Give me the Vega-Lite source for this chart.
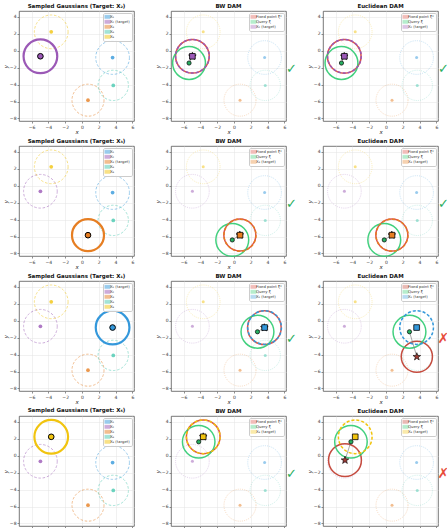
{
"$schema": "https://vega.github.io/schema/vega-lite/v6.json",
"padding": {"left": 2, "top": 3, "right": 0, "bottom": 0},
"background": "white",
"columns": 3,
"spacing": {"row": 25, "column": 37},
"bounds": "flush",
"resolve": {"scale": {"color": "independent", "size": "independent"}},
"config": {
 "font": "DejaVu Sans",
 "view": {"stroke": "#555", "strokeWidth": 0.8},
 "axis": {"labelFontSize": 4.5, "labelColor": "#333", "titleFontSize": 5.5, "titleColor": "#222", "titleFontWeight": "normal", "titleFontStyle": "italic", "tickSize": 2, "tickWidth": 0.6, "tickColor": "#444", "labelPadding": 1, "titlePadding": 1, "domain": false, "gridColor": "#e3e3e3", "gridWidth": 0.5, "labelFont": "DejaVu Sans", "titleFont": "DejaVu Sans"},
 "title": {"fontSize": 5.5, "font": "DejaVu Sans", "fontWeight": "bold", "offset": 2, "color": "#111"},
 "legend": {"labelFontSize": 3.8, "labelFont": "DejaVu Sans", "labelColor": "#333", "padding": 1.5, "rowPadding": 0, "clipHeight": 4.4, "fillColor": "rgba(255,255,255,0.9)", "strokeColor": "#cccccc", "cornerRadius": 1.5, "labelOffset": 1.5, "symbolStrokeWidth": 1, "labelLimit": 60}
},
"datasets": {
 "gauss": [
  {"name": "X₁", "x": 3.65, "y": -0.8, "r": 2.0},
  {"name": "X₂", "x": -4.95, "y": -0.65, "r": 2.0},
  {"name": "X₃", "x": 0.72, "y": -5.84, "r": 1.9},
  {"name": "X₄", "x": 3.73, "y": -4.09, "r": 1.8},
  {"name": "X₅", "x": -3.66, "y": 2.24, "r": 2.0}
 ],
 "ok": [{"res": "✓", "x": 6.85, "y": -2.1}],
 "fail": [{"res": "✗", "x": 6.85, "y": -2.1}],
 "r1bw": [{"item": "Fixed point ξ*", "x": -4.95, "y": -0.65, "r": 2.0}, {"item": "Query ξ", "x": -5.35, "y": -1.45, "r": 1.95}, {"item": "X₂ (target)", "x": -4.95, "y": -0.65, "r": 2.0}],
 "r1eu": [{"item": "Fixed point ξ*", "x": -4.97, "y": -0.66, "r": 2.0}, {"item": "Query ξ", "x": -5.3, "y": -1.45, "r": 1.95}, {"item": "X₂ (target)", "x": -4.95, "y": -0.65, "r": 2.0}],
 "r2bw": [{"item": "Fixed point ξ*", "x": 0.7, "y": -5.82, "r": 1.9}, {"item": "Query ξ", "x": -0.2, "y": -6.4, "r": 1.95}, {"item": "X₃ (target)", "x": 0.72, "y": -5.84, "r": 1.9}],
 "r2eu": [{"item": "Fixed point ξ*", "x": 0.7, "y": -5.83, "r": 1.9}, {"item": "Query ξ", "x": -0.2, "y": -6.4, "r": 1.95}, {"item": "X₃ (target)", "x": 0.72, "y": -5.84, "r": 1.9}],
 "r3bw": [{"item": "Fixed point ξ*", "x": 3.62, "y": -0.82, "r": 2.0}, {"item": "Query ξ", "x": 2.8, "y": -1.3, "r": 1.95}, {"item": "X₁ (target)", "x": 3.65, "y": -0.8, "r": 2.0}],
 "r3eu": [{"item": "Fixed point ξ*", "x": 3.68, "y": -4.25, "r": 1.85}, {"item": "Query ξ", "x": 2.8, "y": -1.3, "r": 1.95}, {"item": "X₁ (target)", "x": 3.65, "y": -0.8, "r": 2.0}],
 "r4bw": [{"item": "Fixed point ξ*", "x": -3.66, "y": 2.24, "r": 2.0}, {"item": "Query ξ", "x": -4.2, "y": 1.65, "r": 1.93}, {"item": "X₅ (target)", "x": -3.66, "y": 2.24, "r": 2.0}],
 "r4eu": [{"item": "Fixed point ξ*", "x": -4.88, "y": -0.52, "r": 1.95}, {"item": "Query ξ", "x": -4.17, "y": 1.65, "r": 1.93}, {"item": "X₅ (target)", "x": -3.66, "y": 2.24, "r": 2.0}]
},
"concat": [
 {
  "title": "Sampled Gaussians (Target: X₂)",
  "width": 115, "height": 110,
  "data": {"name": "gauss"},
  "encoding": {"x": {"field": "x", "type": "quantitative", "title": "x", "scale": {"domain": [-7.5, 6.2], "nice": false, "zero": false}, "axis": {"values": [-6, -4, -2, 0, 2, 4, 6], "labelExpr": "replace(datum.label, '-', '−')"}}, "y": {"field": "y", "type": "quantitative", "title": "y", "scale": {"domain": [-8.3, 4.7], "nice": false, "zero": false}, "axis": {"values": [-8, -6, -4, -2, 0, 2, 4], "labelExpr": "replace(datum.label, '-', '−')"}}},
  "layer": [
   {"transform": [{"filter": "datum.name != 'X₂'"}], "mark": {"type": "point", "filled": false, "strokeDash": [2.5, 1.8], "strokeWidth": 1, "opacity": 0.5}, "encoding": {"size": {"field": "r", "type": "quantitative", "scale": {"type": "pow", "exponent": 2, "domain": [0, 2], "range": [0, 1135]}, "legend": null}, "color": {"field": "name", "type": "nominal", "scale": {"domain": ["X₁", "X₂", "X₃", "X₄", "X₅"], "range": ["#3498DB", "#9B59B6", "#E67E22", "#48C9B0", "#F1C40F"]}, "legend": {"title": null, "orient": "top-right", "offset": 2, "symbolType": "M-2.5,-1H2.5V1H-2.5Z", "symbolSize": 9, "labelExpr": "datum.label == 'X₂' ? 'X₂ (target)' : datum.label", "encode": {"symbols": {"update": {"strokeDash": {"signal": "datum.value == 'X₂' ? [1,0] : [1.5,1]"}, "strokeWidth": {"signal": "datum.value == 'X₂' ? 1.3 : 0.8"}, "opacity": {"signal": "datum.value == 'X₂' ? 1 : 0.55"}, "fill": {"signal": "['#3498DB','#9B59B6','#E67E22','#48C9B0','#F1C40F'][indexof(['X₁','X₂','X₃','X₄','X₅'], datum.value)]"}, "fillOpacity": {"value": 0.25}}}}}}}},
   {"transform": [{"filter": "datum.name == 'X₂'"}], "mark": {"type": "point", "filled": false, "strokeWidth": 2.2, "opacity": 1}, "encoding": {"size": {"field": "r", "type": "quantitative", "scale": {"type": "pow", "exponent": 2, "domain": [0, 2], "range": [0, 1135]}, "legend": null}, "color": {"field": "name", "type": "nominal", "scale": {"domain": ["X₁", "X₂", "X₃", "X₄", "X₅"], "range": ["#3498DB", "#9B59B6", "#E67E22", "#48C9B0", "#F1C40F"]}}}},
   {"transform": [{"filter": "datum.name != 'X₂'"}], "mark": {"type": "circle", "size": 14, "opacity": 0.8}, "encoding": {"color": {"field": "name", "type": "nominal", "scale": {"domain": ["X₁", "X₂", "X₃", "X₄", "X₅"], "range": ["#3498DB", "#9B59B6", "#E67E22", "#48C9B0", "#F1C40F"]}}}},
   {"transform": [{"filter": "datum.name == 'X₂'"}], "mark": {"type": "circle", "size": 32, "opacity": 1, "stroke": "black", "strokeWidth": 1}, "encoding": {"color": {"field": "name", "type": "nominal", "scale": {"domain": ["X₁", "X₂", "X₃", "X₄", "X₅"], "range": ["#3498DB", "#9B59B6", "#E67E22", "#48C9B0", "#F1C40F"]}}}}
  ]
 },
 {
  "title": "BW DAM",
  "width": 115, "height": 110,
  "encoding": {"x": {"field": "x", "type": "quantitative", "title": "x", "scale": {"domain": [-7.5, 6.2], "nice": false, "zero": false}, "axis": {"values": [-6, -4, -2, 0, 2, 4, 6], "labelExpr": "replace(datum.label, '-', '−')"}}, "y": {"field": "y", "type": "quantitative", "title": "y", "scale": {"domain": [-8.3, 4.7], "nice": false, "zero": false}, "axis": {"values": [-8, -6, -4, -2, 0, 2, 4], "labelExpr": "replace(datum.label, '-', '−')"}}},
  "layer": [
   {"data": {"name": "gauss"}, "mark": {"type": "point", "filled": false, "strokeDash": [1, 1.2], "strokeWidth": 0.8, "opacity": 0.35}, "encoding": {"size": {"field": "r", "type": "quantitative", "scale": {"type": "pow", "exponent": 2, "domain": [0, 2], "range": [0, 1135]}, "legend": null}, "color": {"field": "name", "type": "nominal", "scale": {"domain": ["Fixed point ξ*", "Query ξ", "X₂ (target)", "X₁", "X₂", "X₃", "X₄", "X₅"], "range": ["#D9443A", "#2ECC71", "#9B59B6", "#3498DB", "#9B59B6", "#E67E22", "#48C9B0", "#F1C40F"]}}}},
   {"data": {"name": "gauss"}, "mark": {"type": "circle", "size": 9, "opacity": 0.5}, "encoding": {"color": {"field": "name", "type": "nominal", "scale": {"domain": ["Fixed point ξ*", "Query ξ", "X₂ (target)", "X₁", "X₂", "X₃", "X₄", "X₅"], "range": ["#D9443A", "#2ECC71", "#9B59B6", "#3498DB", "#9B59B6", "#E67E22", "#48C9B0", "#F1C40F"]}}}},
   {"data": {"name": "r1bw"}, "transform": [{"filter": "datum.item != 'X₂ (target)'"}], "mark": {"type": "point", "filled": false, "strokeWidth": 1.5, "opacity": 0.9}, "encoding": {"size": {"field": "r", "type": "quantitative", "scale": {"type": "pow", "exponent": 2, "domain": [0, 2], "range": [0, 1135]}, "legend": null}, "color": {"field": "item", "type": "nominal", "scale": {"domain": ["Fixed point ξ*", "Query ξ", "X₂ (target)", "X₁", "X₂", "X₃", "X₄", "X₅"], "range": ["#D9443A", "#2ECC71", "#9B59B6", "#3498DB", "#9B59B6", "#E67E22", "#48C9B0", "#F1C40F"]}, "legend": {"title": null, "orient": "top-right", "offset": 2, "values": ["Fixed point ξ*", "Query ξ", "X₂ (target)"], "symbolType": "M-2.5,-1H2.5V1H-2.5Z", "symbolSize": 9, "encode": {"symbols": {"update": {"strokeDash": {"signal": "datum.value == 'X₂ (target)' ? [2,1] : [1,0]"}, "strokeWidth": {"value": 1.2}, "opacity": {"value": 1}, "fill": {"signal": "datum.value == 'Fixed point ξ*' ? '#D9443A' : datum.value == 'Query ξ' ? '#2ECC71' : '#9B59B6'"}, "fillOpacity": {"value": 0.3}}}}}}}},
   {"data": {"name": "r1bw"}, "transform": [{"filter": "datum.item == 'X₂ (target)'"}], "mark": {"type": "point", "filled": false, "strokeWidth": 1.5, "strokeDash": [3, 2], "opacity": 1}, "encoding": {"size": {"field": "r", "type": "quantitative", "scale": {"type": "pow", "exponent": 2, "domain": [0, 2], "range": [0, 1135]}, "legend": null}, "color": {"field": "item", "type": "nominal", "scale": {"domain": ["Fixed point ξ*", "Query ξ", "X₂ (target)", "X₁", "X₂", "X₃", "X₄", "X₅"], "range": ["#D9443A", "#2ECC71", "#9B59B6", "#3498DB", "#9B59B6", "#E67E22", "#48C9B0", "#F1C40F"]}}}},
   {"data": {"name": "r1bw"}, "transform": [{"filter": "datum.item != 'X₂ (target)'"}], "mark": {"type": "line", "color": "#777", "strokeWidth": 0.8, "opacity": 0.8}, "encoding": {}},
   {"data": {"name": "r1bw"}, "transform": [{"filter": "datum.item == 'Fixed point ξ*'"}], "mark": {"type": "point", "shape": "M0,-1L0.235,-0.324L0.951,-0.309L0.38,0.124L0.588,0.809L0,0.4L-0.588,0.809L-0.38,0.124L-0.951,-0.309L-0.235,-0.324Z", "filled": true, "fill": "#9E3B33", "stroke": "black", "strokeWidth": 0.6, "size": 65, "opacity": 1}, "encoding": {}},
   {"data": {"name": "r1bw"}, "transform": [{"filter": "datum.item == 'X₂ (target)'"}], "mark": {"type": "square", "size": 32, "color": "#9B59B6", "stroke": "black", "strokeWidth": 0.8, "opacity": 1}, "encoding": {}},
   {"data": {"name": "r1bw"}, "transform": [{"filter": "datum.item == 'Query ξ'"}], "mark": {"type": "circle", "size": 18, "color": "#27AE60", "stroke": "black", "strokeWidth": 0.7, "opacity": 1}, "encoding": {}},
   {"data": {"name": "ok"}, "mark": {"type": "text", "fontSize": 13, "color": "#27AE60", "align": "center", "baseline": "middle"}, "encoding": {"text": {"field": "res", "type": "nominal"}}}
  ]
 },
 {
  "title": "Euclidean DAM",
  "width": 115, "height": 110,
  "encoding": {"x": {"field": "x", "type": "quantitative", "title": "x", "scale": {"domain": [-7.5, 6.2], "nice": false, "zero": false}, "axis": {"values": [-6, -4, -2, 0, 2, 4, 6], "labelExpr": "replace(datum.label, '-', '−')"}}, "y": {"field": "y", "type": "quantitative", "title": "y", "scale": {"domain": [-8.3, 4.7], "nice": false, "zero": false}, "axis": {"values": [-8, -6, -4, -2, 0, 2, 4], "labelExpr": "replace(datum.label, '-', '−')"}}},
  "layer": [
   {"data": {"name": "gauss"}, "mark": {"type": "point", "filled": false, "strokeDash": [1, 1.2], "strokeWidth": 0.8, "opacity": 0.35}, "encoding": {"size": {"field": "r", "type": "quantitative", "scale": {"type": "pow", "exponent": 2, "domain": [0, 2], "range": [0, 1135]}, "legend": null}, "color": {"field": "name", "type": "nominal", "scale": {"domain": ["Fixed point ξ*", "Query ξ", "X₂ (target)", "X₁", "X₂", "X₃", "X₄", "X₅"], "range": ["#D9443A", "#2ECC71", "#9B59B6", "#3498DB", "#9B59B6", "#E67E22", "#48C9B0", "#F1C40F"]}}}},
   {"data": {"name": "gauss"}, "mark": {"type": "circle", "size": 9, "opacity": 0.5}, "encoding": {"color": {"field": "name", "type": "nominal", "scale": {"domain": ["Fixed point ξ*", "Query ξ", "X₂ (target)", "X₁", "X₂", "X₃", "X₄", "X₅"], "range": ["#D9443A", "#2ECC71", "#9B59B6", "#3498DB", "#9B59B6", "#E67E22", "#48C9B0", "#F1C40F"]}}}},
   {"data": {"name": "r1eu"}, "transform": [{"filter": "datum.item != 'X₂ (target)'"}], "mark": {"type": "point", "filled": false, "strokeWidth": 1.5, "opacity": 0.9}, "encoding": {"size": {"field": "r", "type": "quantitative", "scale": {"type": "pow", "exponent": 2, "domain": [0, 2], "range": [0, 1135]}, "legend": null}, "color": {"field": "item", "type": "nominal", "scale": {"domain": ["Fixed point ξ*", "Query ξ", "X₂ (target)", "X₁", "X₂", "X₃", "X₄", "X₅"], "range": ["#D9443A", "#2ECC71", "#9B59B6", "#3498DB", "#9B59B6", "#E67E22", "#48C9B0", "#F1C40F"]}, "legend": {"title": null, "orient": "top-right", "offset": 2, "values": ["Fixed point ξ*", "Query ξ", "X₂ (target)"], "symbolType": "M-2.5,-1H2.5V1H-2.5Z", "symbolSize": 9, "encode": {"symbols": {"update": {"strokeDash": {"signal": "datum.value == 'X₂ (target)' ? [2,1] : [1,0]"}, "strokeWidth": {"value": 1.2}, "opacity": {"value": 1}, "fill": {"signal": "datum.value == 'Fixed point ξ*' ? '#D9443A' : datum.value == 'Query ξ' ? '#2ECC71' : '#9B59B6'"}, "fillOpacity": {"value": 0.3}}}}}}}},
   {"data": {"name": "r1eu"}, "transform": [{"filter": "datum.item == 'X₂ (target)'"}], "mark": {"type": "point", "filled": false, "strokeWidth": 1.5, "strokeDash": [3, 2], "opacity": 1}, "encoding": {"size": {"field": "r", "type": "quantitative", "scale": {"type": "pow", "exponent": 2, "domain": [0, 2], "range": [0, 1135]}, "legend": null}, "color": {"field": "item", "type": "nominal", "scale": {"domain": ["Fixed point ξ*", "Query ξ", "X₂ (target)", "X₁", "X₂", "X₃", "X₄", "X₅"], "range": ["#D9443A", "#2ECC71", "#9B59B6", "#3498DB", "#9B59B6", "#E67E22", "#48C9B0", "#F1C40F"]}}}},
   {"data": {"name": "r1eu"}, "transform": [{"filter": "datum.item != 'X₂ (target)'"}], "mark": {"type": "line", "color": "#777", "strokeWidth": 0.8, "opacity": 0.8}, "encoding": {}},
   {"data": {"name": "r1eu"}, "transform": [{"filter": "datum.item == 'Fixed point ξ*'"}], "mark": {"type": "point", "shape": "M0,-1L0.235,-0.324L0.951,-0.309L0.38,0.124L0.588,0.809L0,0.4L-0.588,0.809L-0.38,0.124L-0.951,-0.309L-0.235,-0.324Z", "filled": true, "fill": "#9E3B33", "stroke": "black", "strokeWidth": 0.6, "size": 65, "opacity": 1}, "encoding": {}},
   {"data": {"name": "r1eu"}, "transform": [{"filter": "datum.item == 'X₂ (target)'"}], "mark": {"type": "square", "size": 32, "color": "#9B59B6", "stroke": "black", "strokeWidth": 0.8, "opacity": 1}, "encoding": {}},
   {"data": {"name": "r1eu"}, "transform": [{"filter": "datum.item == 'Query ξ'"}], "mark": {"type": "circle", "size": 18, "color": "#27AE60", "stroke": "black", "strokeWidth": 0.7, "opacity": 1}, "encoding": {}},
   {"data": {"name": "ok"}, "mark": {"type": "text", "fontSize": 13, "color": "#27AE60", "align": "center", "baseline": "middle"}, "encoding": {"text": {"field": "res", "type": "nominal"}}}
  ]
 },
 {
  "title": "Sampled Gaussians (Target: X₃)",
  "width": 115, "height": 110,
  "data": {"name": "gauss"},
  "encoding": {"x": {"field": "x", "type": "quantitative", "title": "x", "scale": {"domain": [-7.5, 6.2], "nice": false, "zero": false}, "axis": {"values": [-6, -4, -2, 0, 2, 4, 6], "labelExpr": "replace(datum.label, '-', '−')"}}, "y": {"field": "y", "type": "quantitative", "title": "y", "scale": {"domain": [-8.3, 4.7], "nice": false, "zero": false}, "axis": {"values": [-8, -6, -4, -2, 0, 2, 4], "labelExpr": "replace(datum.label, '-', '−')"}}},
  "layer": [
   {"transform": [{"filter": "datum.name != 'X₃'"}], "mark": {"type": "point", "filled": false, "strokeDash": [2.5, 1.8], "strokeWidth": 1, "opacity": 0.5}, "encoding": {"size": {"field": "r", "type": "quantitative", "scale": {"type": "pow", "exponent": 2, "domain": [0, 2], "range": [0, 1135]}, "legend": null}, "color": {"field": "name", "type": "nominal", "scale": {"domain": ["X₁", "X₂", "X₃", "X₄", "X₅"], "range": ["#3498DB", "#9B59B6", "#E67E22", "#48C9B0", "#F1C40F"]}, "legend": {"title": null, "orient": "top-right", "offset": 2, "symbolType": "M-2.5,-1H2.5V1H-2.5Z", "symbolSize": 9, "labelExpr": "datum.label == 'X₃' ? 'X₃ (target)' : datum.label", "encode": {"symbols": {"update": {"strokeDash": {"signal": "datum.value == 'X₃' ? [1,0] : [1.5,1]"}, "strokeWidth": {"signal": "datum.value == 'X₃' ? 1.3 : 0.8"}, "opacity": {"signal": "datum.value == 'X₃' ? 1 : 0.55"}, "fill": {"signal": "['#3498DB','#9B59B6','#E67E22','#48C9B0','#F1C40F'][indexof(['X₁','X₂','X₃','X₄','X₅'], datum.value)]"}, "fillOpacity": {"value": 0.25}}}}}}}},
   {"transform": [{"filter": "datum.name == 'X₃'"}], "mark": {"type": "point", "filled": false, "strokeWidth": 2.2, "opacity": 1}, "encoding": {"size": {"field": "r", "type": "quantitative", "scale": {"type": "pow", "exponent": 2, "domain": [0, 2], "range": [0, 1135]}, "legend": null}, "color": {"field": "name", "type": "nominal", "scale": {"domain": ["X₁", "X₂", "X₃", "X₄", "X₅"], "range": ["#3498DB", "#9B59B6", "#E67E22", "#48C9B0", "#F1C40F"]}}}},
   {"transform": [{"filter": "datum.name != 'X₃'"}], "mark": {"type": "circle", "size": 14, "opacity": 0.8}, "encoding": {"color": {"field": "name", "type": "nominal", "scale": {"domain": ["X₁", "X₂", "X₃", "X₄", "X₅"], "range": ["#3498DB", "#9B59B6", "#E67E22", "#48C9B0", "#F1C40F"]}}}},
   {"transform": [{"filter": "datum.name == 'X₃'"}], "mark": {"type": "circle", "size": 32, "opacity": 1, "stroke": "black", "strokeWidth": 1}, "encoding": {"color": {"field": "name", "type": "nominal", "scale": {"domain": ["X₁", "X₂", "X₃", "X₄", "X₅"], "range": ["#3498DB", "#9B59B6", "#E67E22", "#48C9B0", "#F1C40F"]}}}}
  ]
 },
 {
  "title": "BW DAM",
  "width": 115, "height": 110,
  "encoding": {"x": {"field": "x", "type": "quantitative", "title": "x", "scale": {"domain": [-7.5, 6.2], "nice": false, "zero": false}, "axis": {"values": [-6, -4, -2, 0, 2, 4, 6], "labelExpr": "replace(datum.label, '-', '−')"}}, "y": {"field": "y", "type": "quantitative", "title": "y", "scale": {"domain": [-8.3, 4.7], "nice": false, "zero": false}, "axis": {"values": [-8, -6, -4, -2, 0, 2, 4], "labelExpr": "replace(datum.label, '-', '−')"}}},
  "layer": [
   {"data": {"name": "gauss"}, "mark": {"type": "point", "filled": false, "strokeDash": [1, 1.2], "strokeWidth": 0.8, "opacity": 0.35}, "encoding": {"size": {"field": "r", "type": "quantitative", "scale": {"type": "pow", "exponent": 2, "domain": [0, 2], "range": [0, 1135]}, "legend": null}, "color": {"field": "name", "type": "nominal", "scale": {"domain": ["Fixed point ξ*", "Query ξ", "X₃ (target)", "X₁", "X₂", "X₃", "X₄", "X₅"], "range": ["#D9443A", "#2ECC71", "#E67E22", "#3498DB", "#9B59B6", "#E67E22", "#48C9B0", "#F1C40F"]}}}},
   {"data": {"name": "gauss"}, "mark": {"type": "circle", "size": 9, "opacity": 0.5}, "encoding": {"color": {"field": "name", "type": "nominal", "scale": {"domain": ["Fixed point ξ*", "Query ξ", "X₃ (target)", "X₁", "X₂", "X₃", "X₄", "X₅"], "range": ["#D9443A", "#2ECC71", "#E67E22", "#3498DB", "#9B59B6", "#E67E22", "#48C9B0", "#F1C40F"]}}}},
   {"data": {"name": "r2bw"}, "transform": [{"filter": "datum.item != 'X₃ (target)'"}], "mark": {"type": "point", "filled": false, "strokeWidth": 1.5, "opacity": 0.9}, "encoding": {"size": {"field": "r", "type": "quantitative", "scale": {"type": "pow", "exponent": 2, "domain": [0, 2], "range": [0, 1135]}, "legend": null}, "color": {"field": "item", "type": "nominal", "scale": {"domain": ["Fixed point ξ*", "Query ξ", "X₃ (target)", "X₁", "X₂", "X₃", "X₄", "X₅"], "range": ["#D9443A", "#2ECC71", "#E67E22", "#3498DB", "#9B59B6", "#E67E22", "#48C9B0", "#F1C40F"]}, "legend": {"title": null, "orient": "top-right", "offset": 2, "values": ["Fixed point ξ*", "Query ξ", "X₃ (target)"], "symbolType": "M-2.5,-1H2.5V1H-2.5Z", "symbolSize": 9, "encode": {"symbols": {"update": {"strokeDash": {"signal": "datum.value == 'X₃ (target)' ? [2,1] : [1,0]"}, "strokeWidth": {"value": 1.2}, "opacity": {"value": 1}, "fill": {"signal": "datum.value == 'Fixed point ξ*' ? '#D9443A' : datum.value == 'Query ξ' ? '#2ECC71' : '#E67E22'"}, "fillOpacity": {"value": 0.3}}}}}}}},
   {"data": {"name": "r2bw"}, "transform": [{"filter": "datum.item == 'X₃ (target)'"}], "mark": {"type": "point", "filled": false, "strokeWidth": 1.5, "strokeDash": [3, 2], "opacity": 1}, "encoding": {"size": {"field": "r", "type": "quantitative", "scale": {"type": "pow", "exponent": 2, "domain": [0, 2], "range": [0, 1135]}, "legend": null}, "color": {"field": "item", "type": "nominal", "scale": {"domain": ["Fixed point ξ*", "Query ξ", "X₃ (target)", "X₁", "X₂", "X₃", "X₄", "X₅"], "range": ["#D9443A", "#2ECC71", "#E67E22", "#3498DB", "#9B59B6", "#E67E22", "#48C9B0", "#F1C40F"]}}}},
   {"data": {"name": "r2bw"}, "transform": [{"filter": "datum.item != 'X₃ (target)'"}], "mark": {"type": "line", "color": "#777", "strokeWidth": 0.8, "opacity": 0.8}, "encoding": {}},
   {"data": {"name": "r2bw"}, "transform": [{"filter": "datum.item == 'Fixed point ξ*'"}], "mark": {"type": "point", "shape": "M0,-1L0.235,-0.324L0.951,-0.309L0.38,0.124L0.588,0.809L0,0.4L-0.588,0.809L-0.38,0.124L-0.951,-0.309L-0.235,-0.324Z", "filled": true, "fill": "#9E3B33", "stroke": "black", "strokeWidth": 0.6, "size": 65, "opacity": 1}, "encoding": {}},
   {"data": {"name": "r2bw"}, "transform": [{"filter": "datum.item == 'X₃ (target)'"}], "mark": {"type": "square", "size": 32, "color": "#E67E22", "stroke": "black", "strokeWidth": 0.8, "opacity": 1}, "encoding": {}},
   {"data": {"name": "r2bw"}, "transform": [{"filter": "datum.item == 'Query ξ'"}], "mark": {"type": "circle", "size": 18, "color": "#27AE60", "stroke": "black", "strokeWidth": 0.7, "opacity": 1}, "encoding": {}},
   {"data": {"name": "ok"}, "mark": {"type": "text", "fontSize": 13, "color": "#27AE60", "align": "center", "baseline": "middle"}, "encoding": {"text": {"field": "res", "type": "nominal"}}}
  ]
 },
 {
  "title": "Euclidean DAM",
  "width": 115, "height": 110,
  "encoding": {"x": {"field": "x", "type": "quantitative", "title": "x", "scale": {"domain": [-7.5, 6.2], "nice": false, "zero": false}, "axis": {"values": [-6, -4, -2, 0, 2, 4, 6], "labelExpr": "replace(datum.label, '-', '−')"}}, "y": {"field": "y", "type": "quantitative", "title": "y", "scale": {"domain": [-8.3, 4.7], "nice": false, "zero": false}, "axis": {"values": [-8, -6, -4, -2, 0, 2, 4], "labelExpr": "replace(datum.label, '-', '−')"}}},
  "layer": [
   {"data": {"name": "gauss"}, "mark": {"type": "point", "filled": false, "strokeDash": [1, 1.2], "strokeWidth": 0.8, "opacity": 0.35}, "encoding": {"size": {"field": "r", "type": "quantitative", "scale": {"type": "pow", "exponent": 2, "domain": [0, 2], "range": [0, 1135]}, "legend": null}, "color": {"field": "name", "type": "nominal", "scale": {"domain": ["Fixed point ξ*", "Query ξ", "X₃ (target)", "X₁", "X₂", "X₃", "X₄", "X₅"], "range": ["#D9443A", "#2ECC71", "#E67E22", "#3498DB", "#9B59B6", "#E67E22", "#48C9B0", "#F1C40F"]}}}},
   {"data": {"name": "gauss"}, "mark": {"type": "circle", "size": 9, "opacity": 0.5}, "encoding": {"color": {"field": "name", "type": "nominal", "scale": {"domain": ["Fixed point ξ*", "Query ξ", "X₃ (target)", "X₁", "X₂", "X₃", "X₄", "X₅"], "range": ["#D9443A", "#2ECC71", "#E67E22", "#3498DB", "#9B59B6", "#E67E22", "#48C9B0", "#F1C40F"]}}}},
   {"data": {"name": "r2eu"}, "transform": [{"filter": "datum.item != 'X₃ (target)'"}], "mark": {"type": "point", "filled": false, "strokeWidth": 1.5, "opacity": 0.9}, "encoding": {"size": {"field": "r", "type": "quantitative", "scale": {"type": "pow", "exponent": 2, "domain": [0, 2], "range": [0, 1135]}, "legend": null}, "color": {"field": "item", "type": "nominal", "scale": {"domain": ["Fixed point ξ*", "Query ξ", "X₃ (target)", "X₁", "X₂", "X₃", "X₄", "X₅"], "range": ["#D9443A", "#2ECC71", "#E67E22", "#3498DB", "#9B59B6", "#E67E22", "#48C9B0", "#F1C40F"]}, "legend": {"title": null, "orient": "top-right", "offset": 2, "values": ["Fixed point ξ*", "Query ξ", "X₃ (target)"], "symbolType": "M-2.5,-1H2.5V1H-2.5Z", "symbolSize": 9, "encode": {"symbols": {"update": {"strokeDash": {"signal": "datum.value == 'X₃ (target)' ? [2,1] : [1,0]"}, "strokeWidth": {"value": 1.2}, "opacity": {"value": 1}, "fill": {"signal": "datum.value == 'Fixed point ξ*' ? '#D9443A' : datum.value == 'Query ξ' ? '#2ECC71' : '#E67E22'"}, "fillOpacity": {"value": 0.3}}}}}}}},
   {"data": {"name": "r2eu"}, "transform": [{"filter": "datum.item == 'X₃ (target)'"}], "mark": {"type": "point", "filled": false, "strokeWidth": 1.5, "strokeDash": [3, 2], "opacity": 1}, "encoding": {"size": {"field": "r", "type": "quantitative", "scale": {"type": "pow", "exponent": 2, "domain": [0, 2], "range": [0, 1135]}, "legend": null}, "color": {"field": "item", "type": "nominal", "scale": {"domain": ["Fixed point ξ*", "Query ξ", "X₃ (target)", "X₁", "X₂", "X₃", "X₄", "X₅"], "range": ["#D9443A", "#2ECC71", "#E67E22", "#3498DB", "#9B59B6", "#E67E22", "#48C9B0", "#F1C40F"]}}}},
   {"data": {"name": "r2eu"}, "transform": [{"filter": "datum.item != 'X₃ (target)'"}], "mark": {"type": "line", "color": "#777", "strokeWidth": 0.8, "opacity": 0.8}, "encoding": {}},
   {"data": {"name": "r2eu"}, "transform": [{"filter": "datum.item == 'Fixed point ξ*'"}], "mark": {"type": "point", "shape": "M0,-1L0.235,-0.324L0.951,-0.309L0.38,0.124L0.588,0.809L0,0.4L-0.588,0.809L-0.38,0.124L-0.951,-0.309L-0.235,-0.324Z", "filled": true, "fill": "#9E3B33", "stroke": "black", "strokeWidth": 0.6, "size": 65, "opacity": 1}, "encoding": {}},
   {"data": {"name": "r2eu"}, "transform": [{"filter": "datum.item == 'X₃ (target)'"}], "mark": {"type": "square", "size": 32, "color": "#E67E22", "stroke": "black", "strokeWidth": 0.8, "opacity": 1}, "encoding": {}},
   {"data": {"name": "r2eu"}, "transform": [{"filter": "datum.item == 'Query ξ'"}], "mark": {"type": "circle", "size": 18, "color": "#27AE60", "stroke": "black", "strokeWidth": 0.7, "opacity": 1}, "encoding": {}},
   {"data": {"name": "ok"}, "mark": {"type": "text", "fontSize": 13, "color": "#27AE60", "align": "center", "baseline": "middle"}, "encoding": {"text": {"field": "res", "type": "nominal"}}}
  ]
 },
 {
  "title": "Sampled Gaussians (Target: X₁)",
  "width": 115, "height": 110,
  "data": {"name": "gauss"},
  "encoding": {"x": {"field": "x", "type": "quantitative", "title": "x", "scale": {"domain": [-7.5, 6.2], "nice": false, "zero": false}, "axis": {"values": [-6, -4, -2, 0, 2, 4, 6], "labelExpr": "replace(datum.label, '-', '−')"}}, "y": {"field": "y", "type": "quantitative", "title": "y", "scale": {"domain": [-8.3, 4.7], "nice": false, "zero": false}, "axis": {"values": [-8, -6, -4, -2, 0, 2, 4], "labelExpr": "replace(datum.label, '-', '−')"}}},
  "layer": [
   {"transform": [{"filter": "datum.name != 'X₁'"}], "mark": {"type": "point", "filled": false, "strokeDash": [2.5, 1.8], "strokeWidth": 1, "opacity": 0.5}, "encoding": {"size": {"field": "r", "type": "quantitative", "scale": {"type": "pow", "exponent": 2, "domain": [0, 2], "range": [0, 1135]}, "legend": null}, "color": {"field": "name", "type": "nominal", "scale": {"domain": ["X₁", "X₂", "X₃", "X₄", "X₅"], "range": ["#3498DB", "#9B59B6", "#E67E22", "#48C9B0", "#F1C40F"]}, "legend": {"title": null, "orient": "top-right", "offset": 2, "symbolType": "M-2.5,-1H2.5V1H-2.5Z", "symbolSize": 9, "labelExpr": "datum.label == 'X₁' ? 'X₁ (target)' : datum.label", "encode": {"symbols": {"update": {"strokeDash": {"signal": "datum.value == 'X₁' ? [1,0] : [1.5,1]"}, "strokeWidth": {"signal": "datum.value == 'X₁' ? 1.3 : 0.8"}, "opacity": {"signal": "datum.value == 'X₁' ? 1 : 0.55"}, "fill": {"signal": "['#3498DB','#9B59B6','#E67E22','#48C9B0','#F1C40F'][indexof(['X₁','X₂','X₃','X₄','X₅'], datum.value)]"}, "fillOpacity": {"value": 0.25}}}}}}}},
   {"transform": [{"filter": "datum.name == 'X₁'"}], "mark": {"type": "point", "filled": false, "strokeWidth": 2.2, "opacity": 1}, "encoding": {"size": {"field": "r", "type": "quantitative", "scale": {"type": "pow", "exponent": 2, "domain": [0, 2], "range": [0, 1135]}, "legend": null}, "color": {"field": "name", "type": "nominal", "scale": {"domain": ["X₁", "X₂", "X₃", "X₄", "X₅"], "range": ["#3498DB", "#9B59B6", "#E67E22", "#48C9B0", "#F1C40F"]}}}},
   {"transform": [{"filter": "datum.name != 'X₁'"}], "mark": {"type": "circle", "size": 14, "opacity": 0.8}, "encoding": {"color": {"field": "name", "type": "nominal", "scale": {"domain": ["X₁", "X₂", "X₃", "X₄", "X₅"], "range": ["#3498DB", "#9B59B6", "#E67E22", "#48C9B0", "#F1C40F"]}}}},
   {"transform": [{"filter": "datum.name == 'X₁'"}], "mark": {"type": "circle", "size": 32, "opacity": 1, "stroke": "black", "strokeWidth": 1}, "encoding": {"color": {"field": "name", "type": "nominal", "scale": {"domain": ["X₁", "X₂", "X₃", "X₄", "X₅"], "range": ["#3498DB", "#9B59B6", "#E67E22", "#48C9B0", "#F1C40F"]}}}}
  ]
 },
 {
  "title": "BW DAM",
  "width": 115, "height": 110,
  "encoding": {"x": {"field": "x", "type": "quantitative", "title": "x", "scale": {"domain": [-7.5, 6.2], "nice": false, "zero": false}, "axis": {"values": [-6, -4, -2, 0, 2, 4, 6], "labelExpr": "replace(datum.label, '-', '−')"}}, "y": {"field": "y", "type": "quantitative", "title": "y", "scale": {"domain": [-8.3, 4.7], "nice": false, "zero": false}, "axis": {"values": [-8, -6, -4, -2, 0, 2, 4], "labelExpr": "replace(datum.label, '-', '−')"}}},
  "layer": [
   {"data": {"name": "gauss"}, "mark": {"type": "point", "filled": false, "strokeDash": [1, 1.2], "strokeWidth": 0.8, "opacity": 0.35}, "encoding": {"size": {"field": "r", "type": "quantitative", "scale": {"type": "pow", "exponent": 2, "domain": [0, 2], "range": [0, 1135]}, "legend": null}, "color": {"field": "name", "type": "nominal", "scale": {"domain": ["Fixed point ξ*", "Query ξ", "X₁ (target)", "X₁", "X₂", "X₃", "X₄", "X₅"], "range": ["#D9443A", "#2ECC71", "#3498DB", "#3498DB", "#9B59B6", "#E67E22", "#48C9B0", "#F1C40F"]}}}},
   {"data": {"name": "gauss"}, "mark": {"type": "circle", "size": 9, "opacity": 0.5}, "encoding": {"color": {"field": "name", "type": "nominal", "scale": {"domain": ["Fixed point ξ*", "Query ξ", "X₁ (target)", "X₁", "X₂", "X₃", "X₄", "X₅"], "range": ["#D9443A", "#2ECC71", "#3498DB", "#3498DB", "#9B59B6", "#E67E22", "#48C9B0", "#F1C40F"]}}}},
   {"data": {"name": "r3bw"}, "transform": [{"filter": "datum.item != 'X₁ (target)'"}], "mark": {"type": "point", "filled": false, "strokeWidth": 1.5, "opacity": 0.9}, "encoding": {"size": {"field": "r", "type": "quantitative", "scale": {"type": "pow", "exponent": 2, "domain": [0, 2], "range": [0, 1135]}, "legend": null}, "color": {"field": "item", "type": "nominal", "scale": {"domain": ["Fixed point ξ*", "Query ξ", "X₁ (target)", "X₁", "X₂", "X₃", "X₄", "X₅"], "range": ["#D9443A", "#2ECC71", "#3498DB", "#3498DB", "#9B59B6", "#E67E22", "#48C9B0", "#F1C40F"]}, "legend": {"title": null, "orient": "top-right", "offset": 2, "values": ["Fixed point ξ*", "Query ξ", "X₁ (target)"], "symbolType": "M-2.5,-1H2.5V1H-2.5Z", "symbolSize": 9, "encode": {"symbols": {"update": {"strokeDash": {"signal": "datum.value == 'X₁ (target)' ? [2,1] : [1,0]"}, "strokeWidth": {"value": 1.2}, "opacity": {"value": 1}, "fill": {"signal": "datum.value == 'Fixed point ξ*' ? '#D9443A' : datum.value == 'Query ξ' ? '#2ECC71' : '#3498DB'"}, "fillOpacity": {"value": 0.3}}}}}}}},
   {"data": {"name": "r3bw"}, "transform": [{"filter": "datum.item == 'X₁ (target)'"}], "mark": {"type": "point", "filled": false, "strokeWidth": 1.5, "strokeDash": [3, 2], "opacity": 1}, "encoding": {"size": {"field": "r", "type": "quantitative", "scale": {"type": "pow", "exponent": 2, "domain": [0, 2], "range": [0, 1135]}, "legend": null}, "color": {"field": "item", "type": "nominal", "scale": {"domain": ["Fixed point ξ*", "Query ξ", "X₁ (target)", "X₁", "X₂", "X₃", "X₄", "X₅"], "range": ["#D9443A", "#2ECC71", "#3498DB", "#3498DB", "#9B59B6", "#E67E22", "#48C9B0", "#F1C40F"]}}}},
   {"data": {"name": "r3bw"}, "transform": [{"filter": "datum.item != 'X₁ (target)'"}], "mark": {"type": "line", "color": "#777", "strokeWidth": 0.8, "opacity": 0.8}, "encoding": {}},
   {"data": {"name": "r3bw"}, "transform": [{"filter": "datum.item == 'Fixed point ξ*'"}], "mark": {"type": "point", "shape": "M0,-1L0.235,-0.324L0.951,-0.309L0.38,0.124L0.588,0.809L0,0.4L-0.588,0.809L-0.38,0.124L-0.951,-0.309L-0.235,-0.324Z", "filled": true, "fill": "#9E3B33", "stroke": "black", "strokeWidth": 0.6, "size": 65, "opacity": 1}, "encoding": {}},
   {"data": {"name": "r3bw"}, "transform": [{"filter": "datum.item == 'X₁ (target)'"}], "mark": {"type": "square", "size": 32, "color": "#3498DB", "stroke": "black", "strokeWidth": 0.8, "opacity": 1}, "encoding": {}},
   {"data": {"name": "r3bw"}, "transform": [{"filter": "datum.item == 'Query ξ'"}], "mark": {"type": "circle", "size": 18, "color": "#27AE60", "stroke": "black", "strokeWidth": 0.7, "opacity": 1}, "encoding": {}},
   {"data": {"name": "ok"}, "mark": {"type": "text", "fontSize": 13, "color": "#27AE60", "align": "center", "baseline": "middle"}, "encoding": {"text": {"field": "res", "type": "nominal"}}}
  ]
 },
 {
  "title": "Euclidean DAM",
  "width": 115, "height": 110,
  "encoding": {"x": {"field": "x", "type": "quantitative", "title": "x", "scale": {"domain": [-7.5, 6.2], "nice": false, "zero": false}, "axis": {"values": [-6, -4, -2, 0, 2, 4, 6], "labelExpr": "replace(datum.label, '-', '−')"}}, "y": {"field": "y", "type": "quantitative", "title": "y", "scale": {"domain": [-8.3, 4.7], "nice": false, "zero": false}, "axis": {"values": [-8, -6, -4, -2, 0, 2, 4], "labelExpr": "replace(datum.label, '-', '−')"}}},
  "layer": [
   {"data": {"name": "gauss"}, "mark": {"type": "point", "filled": false, "strokeDash": [1, 1.2], "strokeWidth": 0.8, "opacity": 0.35}, "encoding": {"size": {"field": "r", "type": "quantitative", "scale": {"type": "pow", "exponent": 2, "domain": [0, 2], "range": [0, 1135]}, "legend": null}, "color": {"field": "name", "type": "nominal", "scale": {"domain": ["Fixed point ξ*", "Query ξ", "X₁ (target)", "X₁", "X₂", "X₃", "X₄", "X₅"], "range": ["#C0392B", "#2ECC71", "#3498DB", "#3498DB", "#9B59B6", "#E67E22", "#48C9B0", "#F1C40F"]}}}},
   {"data": {"name": "gauss"}, "mark": {"type": "circle", "size": 9, "opacity": 0.5}, "encoding": {"color": {"field": "name", "type": "nominal", "scale": {"domain": ["Fixed point ξ*", "Query ξ", "X₁ (target)", "X₁", "X₂", "X₃", "X₄", "X₅"], "range": ["#C0392B", "#2ECC71", "#3498DB", "#3498DB", "#9B59B6", "#E67E22", "#48C9B0", "#F1C40F"]}}}},
   {"data": {"name": "r3eu"}, "transform": [{"filter": "datum.item != 'X₁ (target)'"}], "mark": {"type": "point", "filled": false, "strokeWidth": 1.5, "opacity": 0.9}, "encoding": {"size": {"field": "r", "type": "quantitative", "scale": {"type": "pow", "exponent": 2, "domain": [0, 2], "range": [0, 1135]}, "legend": null}, "color": {"field": "item", "type": "nominal", "scale": {"domain": ["Fixed point ξ*", "Query ξ", "X₁ (target)", "X₁", "X₂", "X₃", "X₄", "X₅"], "range": ["#C0392B", "#2ECC71", "#3498DB", "#3498DB", "#9B59B6", "#E67E22", "#48C9B0", "#F1C40F"]}, "legend": {"title": null, "orient": "top-right", "offset": 2, "values": ["Fixed point ξ*", "Query ξ", "X₁ (target)"], "symbolType": "M-2.5,-1H2.5V1H-2.5Z", "symbolSize": 9, "encode": {"symbols": {"update": {"strokeDash": {"signal": "datum.value == 'X₁ (target)' ? [2,1] : [1,0]"}, "strokeWidth": {"value": 1.2}, "opacity": {"value": 1}, "fill": {"signal": "datum.value == 'Fixed point ξ*' ? '#C0392B' : datum.value == 'Query ξ' ? '#2ECC71' : '#3498DB'"}, "fillOpacity": {"value": 0.3}}}}}}}},
   {"data": {"name": "r3eu"}, "transform": [{"filter": "datum.item == 'X₁ (target)'"}], "mark": {"type": "point", "filled": false, "strokeWidth": 1.5, "strokeDash": [3, 2], "opacity": 1}, "encoding": {"size": {"field": "r", "type": "quantitative", "scale": {"type": "pow", "exponent": 2, "domain": [0, 2], "range": [0, 1135]}, "legend": null}, "color": {"field": "item", "type": "nominal", "scale": {"domain": ["Fixed point ξ*", "Query ξ", "X₁ (target)", "X₁", "X₂", "X₃", "X₄", "X₅"], "range": ["#C0392B", "#2ECC71", "#3498DB", "#3498DB", "#9B59B6", "#E67E22", "#48C9B0", "#F1C40F"]}}}},
   {"data": {"name": "r3eu"}, "transform": [{"filter": "datum.item != 'X₁ (target)'"}], "mark": {"type": "line", "color": "#777", "strokeWidth": 0.8, "opacity": 0.8}, "encoding": {}},
   {"data": {"name": "r3eu"}, "transform": [{"filter": "datum.item == 'Fixed point ξ*'"}], "mark": {"type": "point", "shape": "M0,-1L0.235,-0.324L0.951,-0.309L0.38,0.124L0.588,0.809L0,0.4L-0.588,0.809L-0.38,0.124L-0.951,-0.309L-0.235,-0.324Z", "filled": true, "fill": "#9E3B33", "stroke": "black", "strokeWidth": 0.6, "size": 65, "opacity": 1}, "encoding": {}},
   {"data": {"name": "r3eu"}, "transform": [{"filter": "datum.item == 'X₁ (target)'"}], "mark": {"type": "square", "size": 32, "color": "#3498DB", "stroke": "black", "strokeWidth": 0.8, "opacity": 1}, "encoding": {}},
   {"data": {"name": "r3eu"}, "transform": [{"filter": "datum.item == 'Query ξ'"}], "mark": {"type": "circle", "size": 18, "color": "#27AE60", "stroke": "black", "strokeWidth": 0.7, "opacity": 1}, "encoding": {}},
   {"data": {"name": "fail"}, "mark": {"type": "text", "fontSize": 14, "color": "#E74C3C", "align": "center", "baseline": "middle"}, "encoding": {"text": {"field": "res", "type": "nominal"}}}
  ]
 },
 {
  "title": "Sampled Gaussians (Target: X₅)",
  "width": 115, "height": 110,
  "data": {"name": "gauss"},
  "encoding": {"x": {"field": "x", "type": "quantitative", "title": "x", "scale": {"domain": [-7.5, 6.2], "nice": false, "zero": false}, "axis": {"values": [-6, -4, -2, 0, 2, 4, 6], "labelExpr": "replace(datum.label, '-', '−')"}}, "y": {"field": "y", "type": "quantitative", "title": "y", "scale": {"domain": [-8.3, 4.7], "nice": false, "zero": false}, "axis": {"values": [-8, -6, -4, -2, 0, 2, 4], "labelExpr": "replace(datum.label, '-', '−')"}}},
  "layer": [
   {"transform": [{"filter": "datum.name != 'X₅'"}], "mark": {"type": "point", "filled": false, "strokeDash": [2.5, 1.8], "strokeWidth": 1, "opacity": 0.5}, "encoding": {"size": {"field": "r", "type": "quantitative", "scale": {"type": "pow", "exponent": 2, "domain": [0, 2], "range": [0, 1135]}, "legend": null}, "color": {"field": "name", "type": "nominal", "scale": {"domain": ["X₁", "X₂", "X₃", "X₄", "X₅"], "range": ["#3498DB", "#9B59B6", "#E67E22", "#48C9B0", "#F1C40F"]}, "legend": {"title": null, "orient": "top-right", "offset": 2, "symbolType": "M-2.5,-1H2.5V1H-2.5Z", "symbolSize": 9, "labelExpr": "datum.label == 'X₅' ? 'X₅ (target)' : datum.label", "encode": {"symbols": {"update": {"strokeDash": {"signal": "datum.value == 'X₅' ? [1,0] : [1.5,1]"}, "strokeWidth": {"signal": "datum.value == 'X₅' ? 1.3 : 0.8"}, "opacity": {"signal": "datum.value == 'X₅' ? 1 : 0.55"}, "fill": {"signal": "['#3498DB','#9B59B6','#E67E22','#48C9B0','#F1C40F'][indexof(['X₁','X₂','X₃','X₄','X₅'], datum.value)]"}, "fillOpacity": {"value": 0.25}}}}}}}},
   {"transform": [{"filter": "datum.name == 'X₅'"}], "mark": {"type": "point", "filled": false, "strokeWidth": 2.2, "opacity": 1}, "encoding": {"size": {"field": "r", "type": "quantitative", "scale": {"type": "pow", "exponent": 2, "domain": [0, 2], "range": [0, 1135]}, "legend": null}, "color": {"field": "name", "type": "nominal", "scale": {"domain": ["X₁", "X₂", "X₃", "X₄", "X₅"], "range": ["#3498DB", "#9B59B6", "#E67E22", "#48C9B0", "#F1C40F"]}}}},
   {"transform": [{"filter": "datum.name != 'X₅'"}], "mark": {"type": "circle", "size": 14, "opacity": 0.8}, "encoding": {"color": {"field": "name", "type": "nominal", "scale": {"domain": ["X₁", "X₂", "X₃", "X₄", "X₅"], "range": ["#3498DB", "#9B59B6", "#E67E22", "#48C9B0", "#F1C40F"]}}}},
   {"transform": [{"filter": "datum.name == 'X₅'"}], "mark": {"type": "circle", "size": 32, "opacity": 1, "stroke": "black", "strokeWidth": 1}, "encoding": {"color": {"field": "name", "type": "nominal", "scale": {"domain": ["X₁", "X₂", "X₃", "X₄", "X₅"], "range": ["#3498DB", "#9B59B6", "#E67E22", "#48C9B0", "#F1C40F"]}}}}
  ]
 },
 {
  "title": "BW DAM",
  "width": 115, "height": 110,
  "encoding": {"x": {"field": "x", "type": "quantitative", "title": "x", "scale": {"domain": [-7.5, 6.2], "nice": false, "zero": false}, "axis": {"values": [-6, -4, -2, 0, 2, 4, 6], "labelExpr": "replace(datum.label, '-', '−')"}}, "y": {"field": "y", "type": "quantitative", "title": "y", "scale": {"domain": [-8.3, 4.7], "nice": false, "zero": false}, "axis": {"values": [-8, -6, -4, -2, 0, 2, 4], "labelExpr": "replace(datum.label, '-', '−')"}}},
  "layer": [
   {"data": {"name": "gauss"}, "mark": {"type": "point", "filled": false, "strokeDash": [1, 1.2], "strokeWidth": 0.8, "opacity": 0.35}, "encoding": {"size": {"field": "r", "type": "quantitative", "scale": {"type": "pow", "exponent": 2, "domain": [0, 2], "range": [0, 1135]}, "legend": null}, "color": {"field": "name", "type": "nominal", "scale": {"domain": ["Fixed point ξ*", "Query ξ", "X₅ (target)", "X₁", "X₂", "X₃", "X₄", "X₅"], "range": ["#D9443A", "#2ECC71", "#F1C40F", "#3498DB", "#9B59B6", "#E67E22", "#48C9B0", "#F1C40F"]}}}},
   {"data": {"name": "gauss"}, "mark": {"type": "circle", "size": 9, "opacity": 0.5}, "encoding": {"color": {"field": "name", "type": "nominal", "scale": {"domain": ["Fixed point ξ*", "Query ξ", "X₅ (target)", "X₁", "X₂", "X₃", "X₄", "X₅"], "range": ["#D9443A", "#2ECC71", "#F1C40F", "#3498DB", "#9B59B6", "#E67E22", "#48C9B0", "#F1C40F"]}}}},
   {"data": {"name": "r4bw"}, "transform": [{"filter": "datum.item != 'X₅ (target)'"}], "mark": {"type": "point", "filled": false, "strokeWidth": 1.5, "opacity": 0.9}, "encoding": {"size": {"field": "r", "type": "quantitative", "scale": {"type": "pow", "exponent": 2, "domain": [0, 2], "range": [0, 1135]}, "legend": null}, "color": {"field": "item", "type": "nominal", "scale": {"domain": ["Fixed point ξ*", "Query ξ", "X₅ (target)", "X₁", "X₂", "X₃", "X₄", "X₅"], "range": ["#D9443A", "#2ECC71", "#F1C40F", "#3498DB", "#9B59B6", "#E67E22", "#48C9B0", "#F1C40F"]}, "legend": {"title": null, "orient": "top-right", "offset": 2, "values": ["Fixed point ξ*", "Query ξ", "X₅ (target)"], "symbolType": "M-2.5,-1H2.5V1H-2.5Z", "symbolSize": 9, "encode": {"symbols": {"update": {"strokeDash": {"signal": "datum.value == 'X₅ (target)' ? [2,1] : [1,0]"}, "strokeWidth": {"value": 1.2}, "opacity": {"value": 1}, "fill": {"signal": "datum.value == 'Fixed point ξ*' ? '#D9443A' : datum.value == 'Query ξ' ? '#2ECC71' : '#F1C40F'"}, "fillOpacity": {"value": 0.3}}}}}}}},
   {"data": {"name": "r4bw"}, "transform": [{"filter": "datum.item == 'X₅ (target)'"}], "mark": {"type": "point", "filled": false, "strokeWidth": 1.5, "strokeDash": [3, 2], "opacity": 1}, "encoding": {"size": {"field": "r", "type": "quantitative", "scale": {"type": "pow", "exponent": 2, "domain": [0, 2], "range": [0, 1135]}, "legend": null}, "color": {"field": "item", "type": "nominal", "scale": {"domain": ["Fixed point ξ*", "Query ξ", "X₅ (target)", "X₁", "X₂", "X₃", "X₄", "X₅"], "range": ["#D9443A", "#2ECC71", "#F1C40F", "#3498DB", "#9B59B6", "#E67E22", "#48C9B0", "#F1C40F"]}}}},
   {"data": {"name": "r4bw"}, "transform": [{"filter": "datum.item != 'X₅ (target)'"}], "mark": {"type": "line", "color": "#777", "strokeWidth": 0.8, "opacity": 0.8}, "encoding": {}},
   {"data": {"name": "r4bw"}, "transform": [{"filter": "datum.item == 'Fixed point ξ*'"}], "mark": {"type": "point", "shape": "M0,-1L0.235,-0.324L0.951,-0.309L0.38,0.124L0.588,0.809L0,0.4L-0.588,0.809L-0.38,0.124L-0.951,-0.309L-0.235,-0.324Z", "filled": true, "fill": "#9E3B33", "stroke": "black", "strokeWidth": 0.6, "size": 65, "opacity": 1}, "encoding": {}},
   {"data": {"name": "r4bw"}, "transform": [{"filter": "datum.item == 'X₅ (target)'"}], "mark": {"type": "square", "size": 32, "color": "#F1C40F", "stroke": "black", "strokeWidth": 0.8, "opacity": 1}, "encoding": {}},
   {"data": {"name": "r4bw"}, "transform": [{"filter": "datum.item == 'Query ξ'"}], "mark": {"type": "circle", "size": 18, "color": "#27AE60", "stroke": "black", "strokeWidth": 0.7, "opacity": 1}, "encoding": {}},
   {"data": {"name": "ok"}, "mark": {"type": "text", "fontSize": 13, "color": "#27AE60", "align": "center", "baseline": "middle"}, "encoding": {"text": {"field": "res", "type": "nominal"}}}
  ]
 },
 {
  "title": "Euclidean DAM",
  "width": 115, "height": 110,
  "encoding": {"x": {"field": "x", "type": "quantitative", "title": "x", "scale": {"domain": [-7.5, 6.2], "nice": false, "zero": false}, "axis": {"values": [-6, -4, -2, 0, 2, 4, 6], "labelExpr": "replace(datum.label, '-', '−')"}}, "y": {"field": "y", "type": "quantitative", "title": "y", "scale": {"domain": [-8.3, 4.7], "nice": false, "zero": false}, "axis": {"values": [-8, -6, -4, -2, 0, 2, 4], "labelExpr": "replace(datum.label, '-', '−')"}}},
  "layer": [
   {"data": {"name": "gauss"}, "mark": {"type": "point", "filled": false, "strokeDash": [1, 1.2], "strokeWidth": 0.8, "opacity": 0.35}, "encoding": {"size": {"field": "r", "type": "quantitative", "scale": {"type": "pow", "exponent": 2, "domain": [0, 2], "range": [0, 1135]}, "legend": null}, "color": {"field": "name", "type": "nominal", "scale": {"domain": ["Fixed point ξ*", "Query ξ", "X₅ (target)", "X₁", "X₂", "X₃", "X₄", "X₅"], "range": ["#C0392B", "#2ECC71", "#F1C40F", "#3498DB", "#9B59B6", "#E67E22", "#48C9B0", "#F1C40F"]}}}},
   {"data": {"name": "gauss"}, "mark": {"type": "circle", "size": 9, "opacity": 0.5}, "encoding": {"color": {"field": "name", "type": "nominal", "scale": {"domain": ["Fixed point ξ*", "Query ξ", "X₅ (target)", "X₁", "X₂", "X₃", "X₄", "X₅"], "range": ["#C0392B", "#2ECC71", "#F1C40F", "#3498DB", "#9B59B6", "#E67E22", "#48C9B0", "#F1C40F"]}}}},
   {"data": {"name": "r4eu"}, "transform": [{"filter": "datum.item != 'X₅ (target)'"}], "mark": {"type": "point", "filled": false, "strokeWidth": 1.5, "opacity": 0.9}, "encoding": {"size": {"field": "r", "type": "quantitative", "scale": {"type": "pow", "exponent": 2, "domain": [0, 2], "range": [0, 1135]}, "legend": null}, "color": {"field": "item", "type": "nominal", "scale": {"domain": ["Fixed point ξ*", "Query ξ", "X₅ (target)", "X₁", "X₂", "X₃", "X₄", "X₅"], "range": ["#C0392B", "#2ECC71", "#F1C40F", "#3498DB", "#9B59B6", "#E67E22", "#48C9B0", "#F1C40F"]}, "legend": {"title": null, "orient": "top-right", "offset": 2, "values": ["Fixed point ξ*", "Query ξ", "X₅ (target)"], "symbolType": "M-2.5,-1H2.5V1H-2.5Z", "symbolSize": 9, "encode": {"symbols": {"update": {"strokeDash": {"signal": "datum.value == 'X₅ (target)' ? [2,1] : [1,0]"}, "strokeWidth": {"value": 1.2}, "opacity": {"value": 1}, "fill": {"signal": "datum.value == 'Fixed point ξ*' ? '#C0392B' : datum.value == 'Query ξ' ? '#2ECC71' : '#F1C40F'"}, "fillOpacity": {"value": 0.3}}}}}}}},
   {"data": {"name": "r4eu"}, "transform": [{"filter": "datum.item == 'X₅ (target)'"}], "mark": {"type": "point", "filled": false, "strokeWidth": 1.5, "strokeDash": [3, 2], "opacity": 1}, "encoding": {"size": {"field": "r", "type": "quantitative", "scale": {"type": "pow", "exponent": 2, "domain": [0, 2], "range": [0, 1135]}, "legend": null}, "color": {"field": "item", "type": "nominal", "scale": {"domain": ["Fixed point ξ*", "Query ξ", "X₅ (target)", "X₁", "X₂", "X₃", "X₄", "X₅"], "range": ["#C0392B", "#2ECC71", "#F1C40F", "#3498DB", "#9B59B6", "#E67E22", "#48C9B0", "#F1C40F"]}}}},
   {"data": {"name": "r4eu"}, "transform": [{"filter": "datum.item != 'X₅ (target)'"}], "mark": {"type": "line", "color": "#777", "strokeWidth": 0.8, "opacity": 0.8}, "encoding": {}},
   {"data": {"name": "r4eu"}, "transform": [{"filter": "datum.item == 'Fixed point ξ*'"}], "mark": {"type": "point", "shape": "M0,-1L0.235,-0.324L0.951,-0.309L0.38,0.124L0.588,0.809L0,0.4L-0.588,0.809L-0.38,0.124L-0.951,-0.309L-0.235,-0.324Z", "filled": true, "fill": "#9E3B33", "stroke": "black", "strokeWidth": 0.6, "size": 65, "opacity": 1}, "encoding": {}},
   {"data": {"name": "r4eu"}, "transform": [{"filter": "datum.item == 'X₅ (target)'"}], "mark": {"type": "square", "size": 32, "color": "#F1C40F", "stroke": "black", "strokeWidth": 0.8, "opacity": 1}, "encoding": {}},
   {"data": {"name": "r4eu"}, "transform": [{"filter": "datum.item == 'Query ξ'"}], "mark": {"type": "circle", "size": 18, "color": "#27AE60", "stroke": "black", "strokeWidth": 0.7, "opacity": 1}, "encoding": {}},
   {"data": {"name": "fail"}, "mark": {"type": "text", "fontSize": 14, "color": "#E74C3C", "align": "center", "baseline": "middle"}, "encoding": {"text": {"field": "res", "type": "nominal"}}}
  ]
 }
]
}
